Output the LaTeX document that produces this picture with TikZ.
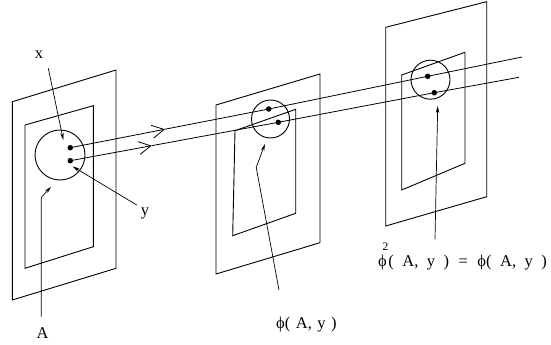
\documentclass[tikz,border=0pt]{standalone}
\usepackage{fontspec}
\setmainfont{Liberation Serif}
\usetikzlibrary{arrows.meta,calc}
\begin{document}
\begin{tikzpicture}[x=1pt,y=-1pt,
  plane/.style={line width=0.9pt,line join=miter},
  ring/.style={line width=0.9pt},
  ray/.style={line width=0.8pt},
  pointer/.style={line width=0.7pt,-{Stealth[length=7pt,width=3.5pt]}},
  midtip/.style={line width=0.8pt,-{Straight Barb[length=12pt,width=13pt,line width=0.8pt]}},
  dot/.style={circle,fill=black,inner sep=0pt,minimum size=5.5pt},
  lbl/.style={inner sep=0pt,font=\fontsize{16.5}{19}\selectfont}]
\useasboundingbox (0,0) rectangle (551,345);
% panel 1
\draw[plane] (12.3,101.7) -- (116,70) -- (116,268.3) -- (12.3,300) -- cycle;
\draw[plane] (25,125) -- (93.3,105.7) -- (93.3,246.7) -- (25,268.3) -- cycle;
\draw[ring] (60,155) circle[radius=25];
% panel 2
\draw[plane] (216,105) -- (320,74) -- (320,242.7) -- (216,274) -- cycle;
\draw[plane] (235,130.7) -- (295.7,109.3) -- (295.7,213.3) -- (232.7,235.7) -- cycle;
\draw[ring] (270.5,119) circle[radius=19];
% panel 3
\draw[plane] (385.7,27.3) -- (486.7,1.7) -- (486.7,196.7) -- (385.7,226) -- cycle;
\draw[plane] (401.7,75) -- (465,52.3) -- (465,163.3) -- (401.7,190) -- cycle;
\draw[ring] (430.5,79.7) circle[radius=19.5];
% dots
\node[dot] (d1) at (70.3,147.7) {};
\node[dot] (d2) at (70.3,160.7) {};
\node[dot] (q1) at (268.7,109) {};
\node[dot] (q2) at (278.3,122.3) {};
\node[dot] (r1) at (427.7,76.3) {};
\node[dot] (r2) at (434.3,92.7) {};
\coordinate (e1) at (522,57);
\coordinate (e2) at (519,77.3);
\coordinate (t1) at ($(d1.center)!0.477!(q1.center)$);
\coordinate (t2) at ($(d2.center)!0.391!(q2.center)$);
% rays
\draw[midtip] (d1.center) -- (t1);
\draw[ray] (t1) -- (q1.center) -- (r1.center) -- (e1);
\draw[midtip] (d2.center) -- (t2);
\draw[ray] (t2) -- (q2.center) -- (r2.center) -- (e2);
% labels
\node[lbl,anchor=base] (lx) at (39,59) {x};
\node[lbl,anchor=base] (ly) at (145,215) {y};
\node[lbl,anchor=base] (lA) at (42.7,338.5) {A};
\node[lbl,anchor=base west] (lp) at (276,328) {ϕ(\hspace{5.5pt}A,\hspace{5.5pt}y\hspace{5.5pt})};
\node[lbl,anchor=base west] (lq) at (378,266) {ϕ\llap{\raisebox{16pt}{\fontsize{11.5}{12}\selectfont 2}\hspace{-1.5pt}}\hspace{1.5pt}(\hspace{8.5pt}A,\hspace{8.5pt}y\hspace{8.5pt})\hspace{9.5pt}=\hspace{9.5pt}ϕ(\hspace{8.5pt}A,\hspace{8.5pt}y\hspace{8.5pt})};
% pointers
\coordinate (x0) at (48.3,68.3);
\coordinate (x1) at (63.3,140);
\draw[pointer] (x0) -- (x1);
\coordinate (y0) at (136.7,205);
\coordinate (y1) at (72.7,166.5);
\draw[pointer] (y0) -- (y1);
\coordinate (a0) at (41.3,316.7);
\coordinate (a1) at (41.3,197.5);
\coordinate (a2) at (51,186.7);
\draw[pointer] (a0) -- (a1) -- (a2);
\coordinate (p0) at (279,290);
\coordinate (p1) at (256.2,167.3);
\coordinate (p2) at (265,144);
\draw[pointer] (p0) -- (p1) -- (p2);
\coordinate (s0) at (435,239.3);
\coordinate (s1) at (437.7,106);
\draw[pointer] (s0) -- (s1);
\end{tikzpicture}
\end{document}
